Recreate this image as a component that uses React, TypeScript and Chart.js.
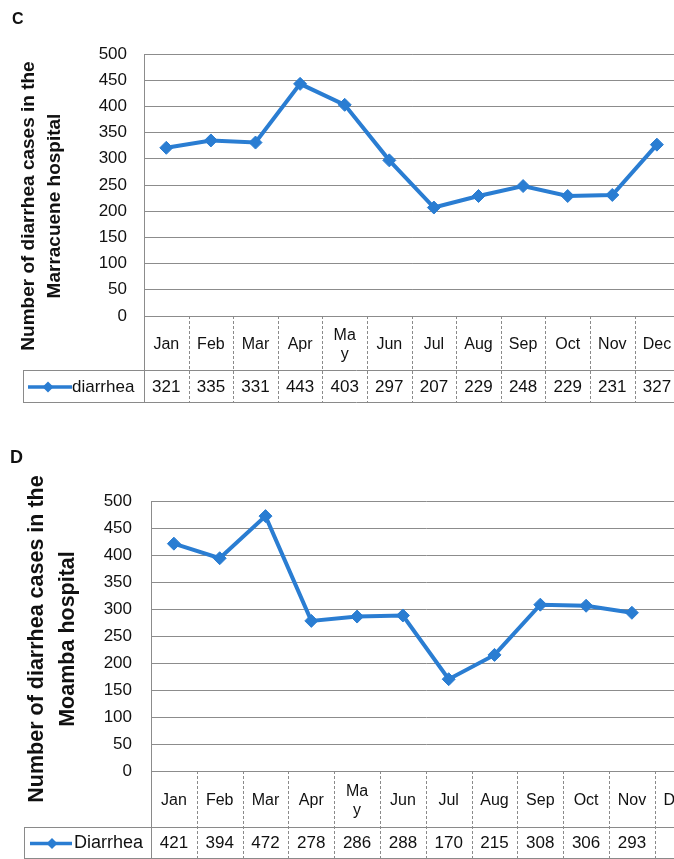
import React, { useEffect, useRef } from "react";
import { Chart, registerables } from "chart.js";

Chart.register(...registerables);

// ---------- data ----------
const MONTHS: (string | string[])[] = ["Jan", "Feb", "Mar", "Apr", ["Ma", "y"], "Jun", "Jul", "Aug", "Sep", "Oct", "Nov", "Dec"];
const MARRACUENE_VALUES: (number | null)[] = [321, 335, 331, 443, 403, 297, 207, 229, 248, 229, 231, 327];
const MOAMBA_VALUES: (number | null)[] = [421, 394, 472, 278, 286, 288, 170, 215, 308, 306, 293, null];
const Y_MIN = 0;
const Y_MAX = 500;
const Y_STEP = 50;
const TITLE_C = ["Number of diarrhea cases in the", "Marracuene hospital"];
const TITLE_D = ["Number of diarrhea cases in the", "Moamba hospital"];

const FONT = "'Liberation Sans', Arial, sans-serif";
const BLUE = "#2a7dd2";
const GRID = "#8c8c8c";
const TABLE_LINE = "#8a8a8a";

type PanelCfg = {
  letter: string;
  letterX: number;
  letterY: number;
  letterSize: number;
  title: string[];
  titleX: number[];
  titleY: number;
  titleSize: number;
  seriesName: string;
  values: (number | null)[];
  width: number;
  height: number;
  plotLeft: number;
  plotTop: number;
  plotBottom: number;
  plotRight: number;
  catRowBottom: number;
  dataRowBottom: number;
  tableLeft: number;
  tickPad: number;
  tickSize: number;
  catSize: number;
  valSize: number;
  legendSize: number;
  iconX0: number;
  iconX1: number;
  iconDiamond: number;
  legendTextX: number;
};

function Panel({ cfg, top }: { cfg: PanelCfg; top: number }) {
  const ref = useRef<HTMLCanvasElement | null>(null);
  useEffect(() => {
    if (!ref.current) return;
    const tablePlugin = {
      id: "tablePlugin",
      afterDraw(chart: any) {
        const ctx = chart.ctx as CanvasRenderingContext2D;
        const area = chart.chartArea;
        const xs = chart.scales.x;
        const n = MONTHS.length;
        const colW = (area.right - area.left) / n;
        ctx.save();
        // letter
        ctx.fillStyle = "#111";
        ctx.font = `bold ${cfg.letterSize}px ${FONT}`;
        ctx.textAlign = "left";
        ctx.textBaseline = "middle";
        ctx.fillText(cfg.letter, cfg.letterX, cfg.letterY);
        // axis title
        ctx.font = `bold ${cfg.titleSize}px ${FONT}`;
        ctx.textAlign = "center";
        cfg.title.forEach((line, i) => {
          ctx.save();
          ctx.translate(cfg.titleX[i], cfg.titleY);
          ctx.rotate(-Math.PI / 2);
          ctx.fillText(line, 0, 0);
          ctx.restore();
        });
        // table lines
        ctx.strokeStyle = TABLE_LINE;
        ctx.lineWidth = 1;
        const right = chart.width;
        for (let i = 0; i <= n; i++) {
          const x = Math.round(area.left + i * colW) + 0.5;
          ctx.beginPath();
          if (i > 0) ctx.setLineDash([3, 2]);
          else ctx.setLineDash([]);
          ctx.moveTo(x, area.bottom);
          ctx.lineTo(x, cfg.dataRowBottom);
          ctx.stroke();
        }
        ctx.setLineDash([]);
        ctx.beginPath();
        ctx.moveTo(cfg.tableLeft, cfg.catRowBottom + 0.5);
        ctx.lineTo(right, cfg.catRowBottom + 0.5);
        ctx.moveTo(cfg.tableLeft, cfg.dataRowBottom + 0.5);
        ctx.lineTo(right, cfg.dataRowBottom + 0.5);
        ctx.moveTo(cfg.tableLeft + 0.5, cfg.catRowBottom);
        ctx.lineTo(cfg.tableLeft + 0.5, cfg.dataRowBottom);
        ctx.stroke();
        // category labels
        ctx.fillStyle = "#111";
        ctx.font = `${cfg.catSize}px ${FONT}`;
        ctx.textAlign = "center";
        ctx.textBaseline = "middle";
        const catMid = (area.bottom + cfg.catRowBottom) / 2 + 2;
        const lh = cfg.catSize * 1.2;
        MONTHS.forEach((m, i) => {
          const cx = xs.getPixelForValue(i);
          const lines = Array.isArray(m) ? m : [m];
          lines.forEach((ln, j) => {
            const y = catMid + (j - (lines.length - 1) / 2) * lh;
            ctx.fillText(ln, cx, y);
          });
        });
        // values
        ctx.font = `${cfg.valSize}px ${FONT}`;
        const valMid = (cfg.catRowBottom + cfg.dataRowBottom) / 2 + 1;
        cfg.values.forEach((v, i) => {
          if (v === null) return;
          ctx.fillText(String(v), xs.getPixelForValue(i), valMid);
        });
        // legend icon
        ctx.strokeStyle = BLUE;
        ctx.lineWidth = 3.5;
        ctx.beginPath();
        ctx.moveTo(cfg.iconX0, valMid);
        ctx.lineTo(cfg.iconX1, valMid);
        ctx.stroke();
        ctx.fillStyle = BLUE;
        ctx.beginPath();
        const r = 5.5;
        ctx.moveTo(cfg.iconDiamond - r, valMid);
        ctx.lineTo(cfg.iconDiamond, valMid - r);
        ctx.lineTo(cfg.iconDiamond + r, valMid);
        ctx.lineTo(cfg.iconDiamond, valMid + r);
        ctx.closePath();
        ctx.fill();
        ctx.fillStyle = "#111";
        ctx.font = `${cfg.legendSize}px ${FONT}`;
        ctx.textAlign = "left";
        ctx.fillText(cfg.seriesName, cfg.legendTextX, valMid);
        ctx.restore();
      },
    };

    const chart = new Chart(ref.current, {
      type: "line",
      data: {
        labels: MONTHS.map((m) => (Array.isArray(m) ? m.join("") : m)),
        datasets: [
          {
            label: cfg.seriesName,
            data: cfg.values,
            borderColor: BLUE,
            backgroundColor: BLUE,
            borderWidth: 4,
            pointStyle: "rectRot",
            pointRadius: 6.5,
            pointBorderWidth: 1,
            pointBackgroundColor: BLUE,
            pointBorderColor: BLUE,
            tension: 0,
          },
        ],
      },
      options: {
        responsive: false,
        animation: false,
        events: [],
        layout: {
          padding: {
            left: 0,
            top: cfg.plotTop,
            right: cfg.width - cfg.plotRight,
            bottom: cfg.height - cfg.plotBottom,
          },
        },
        plugins: {
          legend: { display: false },
          tooltip: { enabled: false },
          title: { display: false },
        },
        scales: {
          x: {
            type: "category",
            display: false,
            offset: true,
          },
          y: {
            min: Y_MIN,
            max: Y_MAX,
            afterFit(scale: any) {
              scale.width = cfg.plotLeft;
              scale.paddingTop = 0;
              scale.paddingBottom = 0;
            },
            ticks: {
              stepSize: Y_STEP,
              padding: cfg.tickPad,
              color: "#111",
              font: { family: FONT, size: cfg.tickSize },
            },
            grid: {
              color: GRID,
              lineWidth: 1,
              drawTicks: false,
            },
            border: { display: true, color: GRID, width: 1 },
          },
        },
      },
      plugins: [tablePlugin],
    } as any);
    return () => chart.destroy();
  }, [cfg]);
  return (
    <canvas
      ref={ref}
      width={cfg.width}
      height={cfg.height}
      style={{ position: "absolute", left: 0, top, width: cfg.width, height: cfg.height }}
    />
  );
}

const PANEL_C: PanelCfg = {
  letter: "C",
  letterX: 12,
  letterY: 20,
  letterSize: 16,
  title: TITLE_C,
  titleX: [29, 55],
  titleY: 206,
  titleSize: 19,
  seriesName: "diarrhea",
  values: MARRACUENE_VALUES,
  width: 690,
  height: 420,
  plotLeft: 144,
  plotTop: 54,
  plotBottom: 316,
  plotRight: 144 + 12 * 44.6,
  catRowBottom: 370,
  dataRowBottom: 402,
  tableLeft: 23,
  tickPad: 17,
  tickSize: 17,
  catSize: 16,
  valSize: 17,
  legendSize: 17,
  iconX0: 28,
  iconX1: 72,
  iconDiamond: 48,
  legendTextX: 72,
};

const PANEL_D: PanelCfg = {
  letter: "D",
  letterX: 10,
  letterY: 38,
  letterSize: 18,
  title: TITLE_D,
  titleX: [37, 68],
  titleY: 219,
  titleSize: 21.5,
  seriesName: "Diarrhea",
  values: MOAMBA_VALUES,
  width: 712,
  height: 439,
  plotLeft: 151,
  plotTop: 81,
  plotBottom: 351,
  plotRight: 151 + 12 * 45.8,
  catRowBottom: 407,
  dataRowBottom: 438,
  tableLeft: 24,
  tickPad: 19,
  tickSize: 17,
  catSize: 16,
  valSize: 17,
  legendSize: 18,
  iconX0: 30,
  iconX1: 72,
  iconDiamond: 52,
  legendTextX: 74,
};

export default function App() {
  return (
    <div
      style={{
        position: "fixed",
        left: 0,
        top: 0,
        width: 674,
        height: 859,
        overflow: "hidden",
        background: "#fff",
      }}
    >
      <Panel cfg={PANEL_C} top={0} />
      <Panel cfg={PANEL_D} top={420} />
    </div>
  );
}
